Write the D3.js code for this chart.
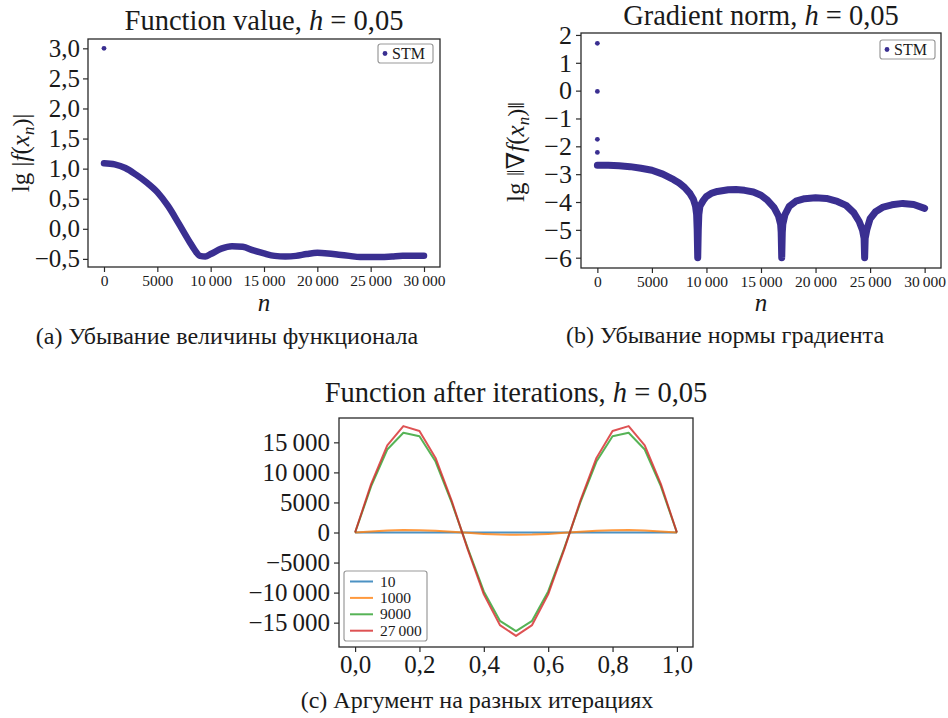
<!DOCTYPE html>
<html><head><meta charset="utf-8">
<script src="https://cdn.jsdelivr.net/npm/d3@7/dist/d3.min.js"></script>
<style>
body{margin:0;background:#fff}
</style>
</head><body>
<svg id="c" width="948" height="718"></svg>
<script>
// ---------- DATA ----------
// (a) function value, lg|f(x_n)|
const fvN   = [0,1000,2000,3000,4000,5000,6000,7000,8000,8500,9000,9500,10000,11000,12000,13000,14000,15000,16000,17000,18000,19000,20000,21000,22000,23000,24000,25000,26000,27000,28000,29000,30000];
const fvVal = [1.09,1.07,1.01,0.90,0.77,0.61,0.38,0.09,-0.21,-0.35,-0.45,-0.46,-0.42,-0.33,-0.29,-0.30,-0.36,-0.41,-0.45,-0.46,-0.45,-0.42,-0.40,-0.41,-0.43,-0.45,-0.47,-0.47,-0.47,-0.46,-0.45,-0.45,-0.45];
const fvOutN   = [0];
const fvOutVal = [3.0];
// (b) gradient norm, lg||grad f(x_n)||
const gnN   = [0,1000,2000,3000,4000,5000,6000,7000,7500,8000,8500,8800,9000,9100,9150,9200,9250,9300,9400,9700,10000,10500,11000,12000,12700,13500,14300,15000,15600,16200,16600,16800,16850,16900,16950,17000,17200,17600,18200,19000,20000,21000,22000,22800,23500,24000,24300,24450,24500,24550,24700,25000,25500,26200,27000,28000,29000,30000];
const gnVal = [-2.68,-2.68,-2.70,-2.73,-2.79,-2.86,-3.00,-3.20,-3.32,-3.48,-3.70,-3.90,-4.15,-4.45,-5.0,-6.0,-5.0,-4.45,-4.15,-3.95,-3.80,-3.68,-3.62,-3.56,-3.55,-3.58,-3.64,-3.76,-3.94,-4.20,-4.50,-4.80,-5.1,-6.0,-5.1,-4.80,-4.45,-4.15,-3.97,-3.88,-3.85,-3.87,-3.98,-4.12,-4.38,-4.70,-5.00,-5.3,-6.0,-5.3,-5.00,-4.60,-4.35,-4.18,-4.10,-4.05,-4.09,-4.23];
const gnOutN   = [0,0,0,0];
const gnOutVal = [1.70,-0.03,-1.75,-2.22];
// (c) function after iterations
const argX   = [0,0.05,0.1,0.15,0.2,0.25,0.3,0.35,0.4,0.45,0.5,0.55,0.6,0.65,0.7,0.75,0.8,0.85,0.9,0.95,1.0];
const it10    = [0,8,14,17,16,12,5,-3,-10,-15,-17,-15,-10,-3,5,12,16,17,14,8,0];
const it1000  = [0,180,320,400,380,280,120,-60,-230,-350,-390,-350,-230,-60,120,280,380,400,320,180,0];
const it9000  = [0,7700,13800,16600,16000,11800,5000,-2600,-9800,-14700,-16400,-14700,-9800,-2600,5000,11800,16000,16600,13800,7700,0];
const it27000 = [0,8100,14500,17700,16900,12400,5300,-2800,-10300,-15400,-17200,-15400,-10300,-2800,5300,12400,16900,17700,14500,8100,0];
const seriesNames = ["10","1000","9000","27\u2009000"];
// ticks
const nTicks = [0,5000,10000,15000,20000,25000,30000];
const nTickLabels = ["0","5000","10\u2009000","15\u2009000","20\u2009000","25\u2009000","30\u2009000"];
const fvTicks = [-0.5,0,0.5,1,1.5,2,2.5,3];
const fvTickLabels = ["\u22120,5","0,0","0,5","1,0","1,5","2,0","2,5","3,0"];
const gnTicks = [-6,-5,-4,-3,-2,-1,0,1,2];
const gnTickLabels = ["\u22126","\u22125","\u22124","\u22123","\u22122","\u22121","0","1","2"];
const argTicks = [0,0.2,0.4,0.6,0.8,1.0];
const argTickLabels = ["0,0","0,2","0,4","0,6","0,8","1,0"];
const valTicks = [-15000,-10000,-5000,0,5000,10000,15000];
const valTickLabels = ["\u221215\u2009000","\u221210\u2009000","\u22125000","0","5000","10\u2009000","15\u2009000"];

// ---------- DRAW ----------
const FONT = "'Liberation Serif', 'DejaVu Serif', 'Times New Roman', Times, serif";
const svg = d3.select("#c").attr("font-family",FONT).style("font-family",FONT);
const DOT = "#3a2f91";
const SPINE = "#2a2a2a";
const INK = "#1a1a1a";
const colors = ["#1f77b4","#ff7f0e","#2ca02c","#d62728"];

function T(sel){ return sel.attr("font-family",FONT).style("font-family",FONT).attr("fill",INK); }

function drawAxes(x, y, xt, xl, yt, yl, xfs, yfs, xpad, ypad){
  const g = svg.append("g");
  const [x0,x1] = x.range(), [y1,y0] = y.range();
  const gx = g.append("g").attr("transform",`translate(0,${y1})`)
    .call(d3.axisBottom(x).tickValues(xt).tickFormat((d,i)=>xl[i]).tickSize(5).tickPadding(xpad));
  const gy = g.append("g").attr("transform",`translate(${x0},0)`)
    .call(d3.axisLeft(y).tickValues(yt).tickFormat((d,i)=>yl[i]).tickSize(5).tickPadding(ypad));
  [gx,gy].forEach(a=>{a.attr("font-family",FONT); a.select(".domain").remove(); a.selectAll("line").attr("stroke",SPINE).attr("stroke-width",1.2);});
  T(gx.selectAll("text")).style("font-size",xfs+"px");
  T(gy.selectAll("text")).style("font-size",yfs+"px");
  g.append("rect").attr("x",x0).attr("y",y0).attr("width",x1-x0).attr("height",y1-y0)
    .attr("fill","none").attr("stroke",SPINE).attr("stroke-width",1.3);
}

function title(cx, by, pre, fs){
  const t = T(svg.append("text")).attr("x",cx).attr("y",by).attr("text-anchor","middle").style("font-size",fs+"px");
  t.append("tspan").text(pre);
  t.append("tspan").attr("font-style","italic").text("h");
  t.append("tspan").text(" = 0,05");
}
function caption(cx, by, s, fs){
  T(svg.append("text")).attr("x",cx).attr("y",by).attr("text-anchor","middle").style("font-size",fs+"px").text(s);
}
function nLabel(cx, by){
  T(svg.append("text")).attr("x",cx).attr("y",by).attr("text-anchor","middle").style("font-size","25px").attr("font-style","italic").text("n");
}
function yLabel(cx, cy, parts, fs){
  const t = T(svg.append("text")).attr("transform",`translate(${cx},${cy}) rotate(-90)`).attr("text-anchor","middle").style("font-size",fs+"px");
  parts.forEach(p=>{
    const s = t.append("tspan").text(p[0]);
    if(p[1]) s.attr("font-style","italic");
    if(p[2]) s.attr("dy",p[2]).style("font-size",(p[3]||fs)+"px");
  });
}
function dotLegend(x0,y0,w,h){
  svg.append("rect").attr("x",x0).attr("y",y0).attr("width",w).attr("height",h).attr("rx",2.5)
    .attr("fill","#fff").attr("stroke","#9a9a9a").attr("stroke-width",1.2);
  svg.append("circle").attr("cx",x0+7).attr("cy",y0+h/2).attr("r",2.4).attr("fill",DOT);
  T(svg.append("text")).attr("x",x0+14).attr("y",y0+h/2+5.5).style("font-size","16px").text("STM");
}

// (a)
{
  const x = d3.scaleLinear().domain([-1500,31500]).range([88,440]);
  const y = d3.scaleLinear().domain([-0.635,3.155]).range([267,39]);
  drawAxes(x,y,nTicks,nTickLabels,fvTicks,fvTickLabels,15.5,25,3,3);
  const pts = fvN.map((n,i)=>[n,fvVal[i]]);
  svg.append("path").attr("d",d3.line().x(d=>x(d[0])).y(d=>y(d[1])).curve(d3.curveMonotoneX)(pts))
    .attr("fill","none").attr("stroke",DOT).attr("stroke-width",6.5).attr("stroke-linecap","round").attr("stroke-linejoin","round");
  svg.selectAll(null).data(fvOutN.map((n,i)=>[n,fvOutVal[i]])).join("circle")
    .attr("cx",d=>x(d[0])).attr("cy",d=>y(d[1])).attr("r",2.4).attr("fill",DOT);
  dotLegend(378,44,55,19);
  title(264,30,"Function value, ",28.5);
  nLabel(264,311);
  yLabel(29,153,[["lg |"],["f",true],["("],["x",true],["n",true,"5",17],[")|",false,"-5",24]],25);
  caption(227,344,"(a) Убывание величины функционала",24);
}
// (b)
{
  const x = d3.scaleLinear().domain([-1500,31500]).range([581,941]);
  const y = d3.scaleLinear().domain([-6.37,2.07]).range([268,33]);
  drawAxes(x,y,nTicks,nTickLabels,gnTicks,gnTickLabels,15.5,26,3,4);
  const pts = gnN.map((n,i)=>[n,gnVal[i]]);
  svg.append("path").attr("d",d3.line().x(d=>x(d[0])).y(d=>y(d[1]))(pts))
    .attr("fill","none").attr("stroke",DOT).attr("stroke-width",7).attr("stroke-linecap","round").attr("stroke-linejoin","round");
  svg.selectAll(null).data(gnOutN.map((n,i)=>[n,gnOutVal[i]])).join("circle")
    .attr("cx",d=>x(d[0])).attr("cy",d=>y(d[1])).attr("r",2.4).attr("fill",DOT);
  dotLegend(880,40,55,19);
  title(761,25,"Gradient norm, ",28.5);
  nLabel(761,311);
  yLabel(524,152,[["lg \u2016\u2207"],["f",true],["("],["x",true],["n",true,"5",17],[")\u2016",false,"-5",24]],25);
  caption(725,343,"(b) Убывание нормы градиента",24);
}
// (c)
{
  const x = d3.scaleLinear().domain([-0.05,1.05]).range([339,693]);
  const y = d3.scaleLinear().domain([-19050,19050]).range([647,418]);
  drawAxes(x,y,argTicks,argTickLabels,valTicks,valTickLabels,25,25,3,4);
  const all = [it10,it1000,it9000,it27000];
  const line = d3.line().x((d,i)=>x(argX[i])).y(d=>y(d));
  all.forEach((s,k)=>{
    svg.append("path").attr("d",line(s)).attr("fill","none").attr("stroke",colors[k])
      .attr("stroke-opacity",0.8).attr("stroke-width",2).attr("stroke-linejoin","round");
  });
  svg.append("rect").attr("x",344).attr("y",571).attr("width",83).attr("height",70).attr("rx",2.5)
    .attr("fill","#fff").attr("fill-opacity",0.8).attr("stroke","#9a9a9a").attr("stroke-width",1.2);
  seriesNames.forEach((nm,k)=>{
    const yy = 581.5 + k*16.4;
    svg.append("line").attr("x1",350).attr("x2",373).attr("y1",yy).attr("y2",yy)
      .attr("stroke",colors[k]).attr("stroke-opacity",0.8).attr("stroke-width",2);
    T(svg.append("text")).attr("x",380).attr("y",yy+5).style("font-size","15.5px").text(nm);
  });
  title(516,402,"Function after iterations, ",28.5);
  caption(477,708,"(c) Аргумент на разных итерациях",24);
}
</script>
</body></html>
